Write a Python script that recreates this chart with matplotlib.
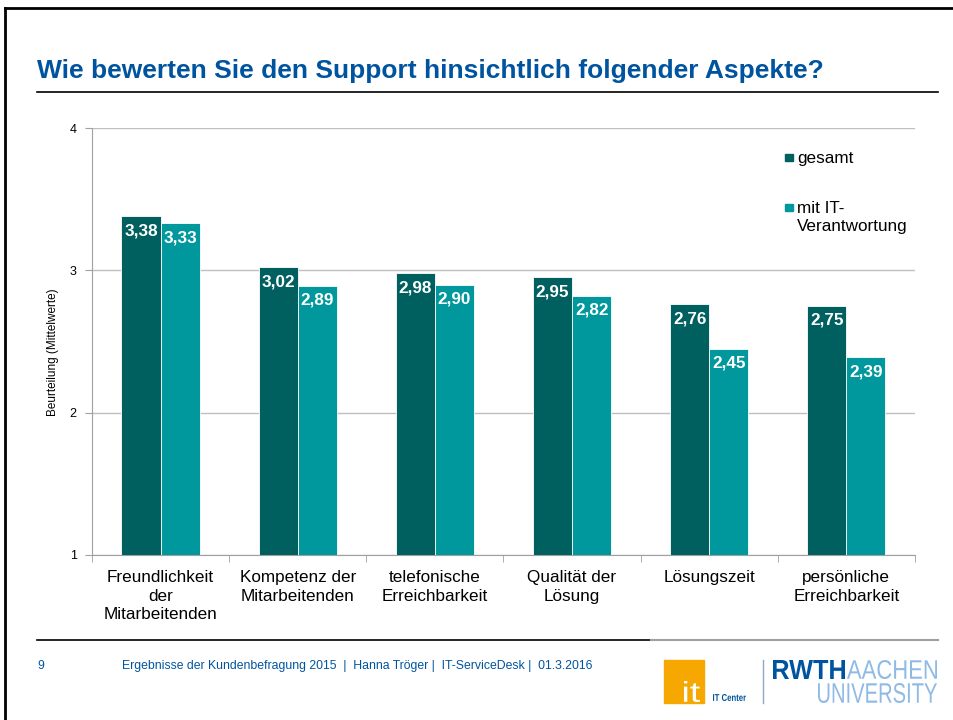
import matplotlib.pyplot as plt
from matplotlib.lines import Line2D
from matplotlib.patches import PathPatch, Rectangle
from matplotlib.textpath import TextPath
from matplotlib.font_manager import FontProperties
from matplotlib.transforms import Affine2D

categories = [
    "Freundlichkeit\nder\nMitarbeitenden",
    "Kompetenz der\nMitarbeitenden",
    "telefonische\nErreichbarkeit",
    "Qualität der\nLösung",
    "Lösungszeit",
    "persönliche\nErreichbarkeit",
]
gesamt = [3.38, 3.02, 2.98, 2.95, 2.76, 2.75]
mit_it = [3.33, 2.89, 2.90, 2.82, 2.45, 2.39]
series_names = ["gesamt", "mit IT-\nVerantwortung"]
y_ticks = [1, 2, 3, 4]

DARK = "#005F5F"
LIGHT = "#00979D"
BLUE = "#00549F"
LIGHT_BLUE = "#8EBAE5"

plt.rcParams["font.family"] = ["Liberation Sans", "DejaVu Sans"]

fig = plt.figure(figsize=(9.54, 7.2), dpi=100)
ax = fig.add_axes([0.0964, 0.2292, 0.8627, 0.593])

x = list(range(len(categories)))
w = 0.285
b1 = ax.bar([i - w / 2 for i in x], [v - 1 for v in gesamt], w, bottom=1,
            color=DARK, edgecolor="white", linewidth=0.6, zorder=3)
b2 = ax.bar([i + w / 2 for i in x], [v - 1 for v in mit_it], w, bottom=1,
            color=LIGHT, edgecolor="white", linewidth=0.6, zorder=3)

for bars, vals in ((b1, gesamt), (b2, mit_it)):
    for bar, v in zip(bars, vals):
        ax.annotate(f"{v:.2f}".replace(".", ","),
                    (bar.get_x() + bar.get_width() / 2, v),
                    xytext=(0, -5), textcoords="offset points",
                    ha="center", va="top", color="white",
                    fontsize=12.3, fontweight="bold", zorder=4)

ax.set_xlim(-0.5, len(categories) - 0.5)
ax.set_ylim(1, 4)
ax.set_yticks(y_ticks)
ax.set_yticklabels([str(t) for t in y_ticks], fontsize=9)
ax.yaxis.grid(True, color="#BFBFBF", linewidth=1, zorder=0)
ax.set_ylabel("Beurteilung (Mittelwerte)", fontsize=8.5)
ax.yaxis.set_label_coords(-0.04, 0.475)

ax.set_xticks(x)
ax.set_xticklabels(categories, fontsize=12.3, linespacing=1.3)
ax.set_xticks([i + 0.5 for i in range(-1, len(categories))], minor=True)
ax.tick_params(axis="x", which="major", length=0, pad=11)
ax.tick_params(axis="x", which="minor", length=5, color="#A0A0A0")
ax.tick_params(axis="y", length=5, color="#A0A0A0", pad=6)

for side in ("top", "right"):
    ax.spines[side].set_visible(False)
for side in ("left", "bottom"):
    ax.spines[side].set_color("#A0A0A0")

# legend drawn by hand so the squares sit on the first text line
for (name, color, yy) in ((series_names[0], DARK, 0.932), (series_names[1], LIGHT, 0.815)):
    ax.add_patch(Rectangle((0.842, yy - 0.009), 0.0095, 0.017, transform=ax.transAxes,
                           color=color, clip_on=False))
    ax.text(0.857, yy + 0.014, name, transform=ax.transAxes, fontsize=12.3,
            va="top", ha="left", linespacing=1.25)

# slide frame
fig.add_artist(Line2D([0.005, 1.0], [0.989, 0.989], color="black", linewidth=2))
fig.add_artist(Line2D([0.005, 0.005], [0.0, 0.989], color="black", linewidth=2))

fig.text(0.039, 0.902, "Wie bewerten Sie den Support hinsichtlich folgender Aspekte?",
         fontsize=19, fontweight="bold", color=BLUE, ha="left", va="center")
fig.add_artist(Line2D([0.039, 0.983], [0.872, 0.872], color="black", linewidth=1.2))

# footer
fig.add_artist(Line2D([0.039, 0.682], [0.111, 0.111], color="black", linewidth=1.2))
fig.add_artist(Line2D([0.682, 0.983], [0.111, 0.111], color="#A0A0A0", linewidth=1.5))
fig.text(0.039, 0.075, "9", fontsize=8.8, color=BLUE, ha="left", va="center")
fig.text(0.128, 0.075,
         "Ergebnisse der Kundenbefragung 2015  |  Hanna Tröger |  IT-ServiceDesk |  01.3.2016",
         fontsize=8.8, color=BLUE, ha="left", va="center")


def squeezed_text(s, x0, y0, height, width, color, bold=False):
    """Text path scaled to a pixel box (x0, y0 = lower left, from the bottom)."""
    prop = FontProperties(family="Liberation Sans", weight="bold" if bold else "normal")
    path = TextPath((0, 0), s, size=100, prop=prop)
    ext = path.get_extents()
    tr = (Affine2D().translate(-ext.x0, -ext.y0)
          .scale(width / ext.width, height / ext.height)
          .translate(x0, y0))
    fig.add_artist(PathPatch(path, transform=tr, color=color, lw=0))


# logos (pixel boxes, origin at the bottom of the 720 px canvas)
fig.add_artist(Rectangle((0.696, 0.024), 0.042, 0.06, color="#F6A800", transform=fig.transFigure))
squeezed_text("it", 684, 18, 21, 16, "white")
squeezed_text("IT Center", 713, 19, 7, 33, BLUE, bold=True)
fig.add_artist(Line2D([0.800, 0.800], [0.024, 0.084], color="#8EA9C8", linewidth=1))
squeezed_text("RWTH", 773, 41, 19, 72, BLUE, bold=True)
squeezed_text("AACHEN", 847, 41, 19, 90, LIGHT_BLUE)
squeezed_text("UNIVERSITY", 818, 17, 20, 119, LIGHT_BLUE)

fig.savefig("out.png", dpi=100)
